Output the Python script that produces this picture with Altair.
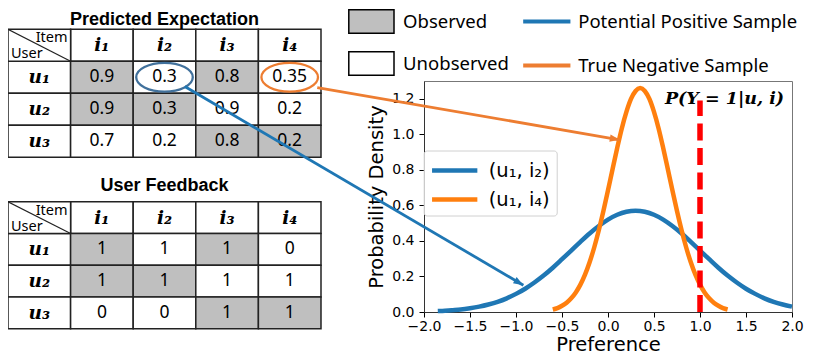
import math
import altair as alt
import pandas as pd

# ---------------- data ----------------
items = ["i₁", "i₂", "i₃", "i₄"]
users = ["u₁", "u₂", "u₃"]
predicted = [["0.9", "0.3", "0.8", "0.35"],
             ["0.9", "0.3", "0.9", "0.2"],
             ["0.7", "0.2", "0.8", "0.2"]]
feedback = [["1", "1", "1", "0"],
            ["1", "1", "1", "1"],
            ["0", "0", "1", "1"]]
observed = [[1, 0, 1, 0],
            [1, 1, 0, 0],
            [0, 0, 1, 1]]
status_labels = ["Observed", "Unobserved"]
status_colors = ["#bfbfbf", "#ffffff"]
table_titles = ["Predicted Expectation", "User Feedback"]
corner_labels = ["Item", "User"]

ring_users = ["u₁", "u₁"]
ring_items = ["i₂", "i₄"]
ring_colors = ["#41719c", "#ed7d31"]

series_labels = ["(u₁, i₂)", "(u₁, i₄)"]
series_colors = ["#1f77b4", "#ff7f0e"]

blue_x = [-1.85, -1.8, -1.7, -1.6, -1.5, -1.4, -1.3, -1.2, -1.1, -1.0, -0.9, -0.8,
          -0.7, -0.6, -0.5, -0.4, -0.3, -0.2, -0.1, 0.0, 0.1, 0.2, 0.3, 0.4, 0.5,
          0.6, 0.7, 0.8, 0.9, 1.0, 1.1, 1.2, 1.3, 1.4, 1.5, 1.6, 1.7, 1.8, 1.9, 2.0]
blue_y = [0.005, 0.006, 0.010, 0.014, 0.021, 0.030, 0.042, 0.057, 0.077, 0.102, 0.131, 0.166,
          0.205, 0.249, 0.297, 0.346, 0.395, 0.442, 0.484, 0.520, 0.547, 0.564, 0.570, 0.564, 0.547,
          0.520, 0.484, 0.442, 0.395, 0.346, 0.297, 0.249, 0.205, 0.166, 0.131, 0.102, 0.077, 0.057, 0.042, 0.030]

orange_x = [-0.6, -0.55, -0.5, -0.45, -0.4, -0.35, -0.3, -0.25, -0.2, -0.15, -0.1, -0.05,
            0.0, 0.05, 0.1, 0.15, 0.2, 0.25, 0.3, 0.35, 0.4, 0.45, 0.5, 0.55, 0.6, 0.65,
            0.7, 0.75, 0.8, 0.85, 0.9, 0.95, 1.0, 1.05, 1.1, 1.15, 1.2, 1.25, 1.3]
orange_y = [0.014, 0.022, 0.035, 0.052, 0.077, 0.110, 0.154, 0.210, 0.280, 0.363, 0.460, 0.568,
            0.685, 0.805, 0.923, 1.033, 1.126, 1.199, 1.244, 1.260, 1.244, 1.199, 1.126, 1.033, 0.923, 0.805,
            0.685, 0.568, 0.460, 0.363, 0.280, 0.210, 0.154, 0.110, 0.077, 0.052, 0.035, 0.022, 0.014]

threshold = 1.0
threshold_top = 1.19
threshold_label = "P(Y = 1|u, i)"
threshold_label_y = 1.198

arrow_kinds = ["Potential Positive Sample", "True Negative Sample"]
arrow_colors = ["#1f77b4", "#ed7d31"]
arrow_start_x = [-4.60, -3.16]
arrow_start_y = [1.269, 1.263]
arrow_end_x = [-0.92, 0.127]
arrow_end_y = [0.151, 0.969]

x_ticks = [-2.0, -1.5, -1.0, -0.5, 0.0, 0.5, 1.0, 1.5, 2.0]
y_ticks = [0.0, 0.2, 0.4, 0.6, 0.8, 1.0, 1.2]
x_domain = [-2.0, 2.0]
y_domain = [0.0, 1.3]

# ---------------- layout / style ----------------
VIEW_W, VIEW_H = 368, 231
TABLE_X_RANGE = [-416, -103]
T1_Y_RANGE = [-51.7, 76.2]
T2_Y_RANGE = [120.8, 247.7]
GRID = "#222222"
SANS = "Noto Sans"
TITLE_FONT = "Liberation Sans"
SERIF = "DejaVu Serif"
MPL = "DejaVu Sans"

fill_legend = alt.Legend(
    orient="none", legendX=-75.2, legendY=-71.9, title=None, padding=0,
    symbolType="M-2,-1.04H2V1.04H-2Z", symbolSize=511, symbolStrokeColor="black",
    symbolStrokeWidth=1.5, symbolOffset=10.1, labelOffset=19.2, rowPadding=11,
    labelFont=SANS, labelFontSize=18.5, labelColor="black", labelLimit=300)

stroke_legend = alt.Legend(
    orient="none", legendX=99.2, legendY=-73.5, title=None, padding=0,
    symbolType="M-2,0H2", symbolSize=558, symbolStrokeWidth=4,
    symbolOffset=9.6, labelOffset=17.4, rowPadding=20,
    labelFont=SANS, labelFontSize=18.5, labelColor="black", labelLimit=400)

curve_legend = alt.Legend(
    orient="none", legendX=-0.3, legendY=69.5, title=None, padding=6,
    symbolType="M-2,0H2", symbolSize=513, symbolStrokeWidth=4.5,
    symbolOffset=11, labelOffset=20, rowPadding=5,
    strokeColor="#d0d0d0", fillColor="rgba(255,255,255,0.85)", cornerRadius=3,
    labelFont=MPL, labelFontSize=19.5, labelColor="black", labelLimit=300,
    labelExpr="datum.label + '\u2003'")


def build_table(values):
    rows = []
    for r, u in enumerate(users):
        for c, it in enumerate(items):
            rows.append(dict(c=c + 1, r=r + 1, label=values[r][c], user=u, item=it,
                             status=status_labels[0] if observed[r][c] else status_labels[1],
                             role="body"))
    for c, it in enumerate(items):
        rows.append(dict(c=c + 1, r=0, label=it, user="", item=it, status="", role="colhead"))
    for r, u in enumerate(users):
        rows.append(dict(c=0, r=r + 1, label=u, user=u, item="", status="", role="rowhead"))
    rows.append(dict(c=0, r=0, label="", user="", item="", status="", role="corner"))
    df = pd.DataFrame(rows)
    df["c_end"] = df["c"] + 1
    df["r_end"] = df["r"] + 1
    df["c_mid"] = df["c"] + 0.5
    df["r_mid"] = df["r"] + 0.5
    return df


def table_chart(values, title, y_range, title_dy, with_rings):
    df = build_table(values)
    ncols = len(items) + 1
    nrows = len(users) + 1
    xs = alt.Scale(domain=[0, ncols], range=TABLE_X_RANGE, nice=False, zero=False)
    ys = alt.Scale(domain=[0, nrows], range=y_range, nice=False, zero=False)

    def X(f):
        return alt.X(f, type="quantitative", scale=xs, axis=None)

    def Y(f):
        return alt.Y(f, type="quantitative", scale=ys, axis=None)

    base = alt.Chart(df)
    heads = base.transform_filter("datum.role != 'body'").mark_rect(
        fill="white", stroke=GRID, strokeWidth=1.5).encode(
        x=X("c"), x2="c_end", y=Y("r"), y2="r_end")
    cells = base.transform_filter("datum.role == 'body'").mark_rect(
        stroke=GRID, strokeWidth=1.5).encode(
        x=X("c"), x2="c_end", y=Y("r"), y2="r_end",
        fill=alt.Fill("status:N", scale=alt.Scale(domain=status_labels, range=status_colors),
                      legend=fill_legend))
    diag = base.transform_filter("datum.role == 'corner'").mark_rule(
        stroke=GRID, strokeWidth=1.2).encode(
        x=X("c"), x2="c_end", y=Y("r"), y2="r_end")
    item_txt = base.transform_filter("datum.role == 'corner'").mark_text(
        text=corner_labels[0], align="right", baseline="top", dx=-3, dy=2,
        font=SANS, fontSize=14.5, color="black").encode(x=X("c_end"), y=Y("r"))
    user_txt = base.transform_filter("datum.role == 'corner'").mark_text(
        text=corner_labels[1], align="left", baseline="alphabetic", dx=3, dy=-3,
        font=SANS, fontSize=14.5, color="black").encode(x=X("c"), y=Y("r_end"))
    vals = base.transform_filter("datum.role == 'body'").mark_text(
        font=SANS, fontSize=17.5, color="black").encode(
        x=X("c_mid"), y=Y("r_mid"), text="label:N")
    hdr = base.transform_filter("datum.role == 'colhead' || datum.role == 'rowhead'").mark_text(
        font=SERIF, fontSize=18.5, fontWeight="bold", fontStyle="italic", color="black").encode(
        x=X("c_mid"), y=Y("r_mid"), text="label:N")
    ttl = alt.Chart(pd.DataFrame({"title": [title]})).mark_text(
        font=TITLE_FONT, fontSize=18, fontWeight="bold", baseline="alphabetic", dy=title_dy,
        color="black").encode(
        x=alt.XDatum(ncols / 2, type="quantitative", scale=xs, axis=None),
        y=alt.YDatum(0, type="quantitative", scale=ys, axis=None),
        text="title:N")
    layers = [heads, cells, diag, item_txt, user_txt, vals, hdr, ttl]
    if with_rings:
        ring_df = pd.DataFrame({"user": ring_users, "item": ring_items, "ring": ring_colors})
        ring_df["c_mid"] = [items.index(i) + 1.5 for i in ring_items]
        ring_df["r_mid"] = [users.index(u) + 1.5 for u in ring_users]
        rings = alt.Chart(ring_df).mark_point(
            shape="M-2,0A2,1.02 0 1,0 2,0A2,1.02 0 1,0 -2,0", size=800,
            filled=False, strokeWidth=2.3, opacity=1).encode(
            x=X("c_mid"), y=Y("r_mid"),
            stroke=alt.condition(f"datum.item == '{ring_items[0]}'",
                                 alt.value(ring_colors[0]), alt.value(ring_colors[1])))
        layers.append(rings)
    return alt.layer(*layers)


table1 = table_chart(predicted, table_titles[0], T1_Y_RANGE, -4.5, True)
table2 = table_chart(feedback, table_titles[1], T2_Y_RANGE, -11, False)

# ---------------- density plot ----------------
xs_d = alt.Scale(domain=x_domain, nice=False, zero=False)
ys_d = alt.Scale(domain=y_domain, nice=False, zero=False)
x_axis = alt.Axis(values=x_ticks, format=".1f", title="Preference", orient="bottom", grid=False,
                  tickSize=5, tickColor="black", domainColor="#333333", labelColor="black",
                  labelFont=MPL, labelFontSize=14, labelPadding=2, labelOverlap=False,
                  labelFlush=False, titleFont=MPL, titleFontSize=19.5, titleFontWeight="normal",
                  titleColor="black", titlePadding=2)
y_axis = alt.Axis(values=y_ticks, format=".1f", title="Probability Density", orient="left", grid=False,
                  tickSize=5, tickColor="black", domainColor="#333333", labelColor="black",
                  labelFont=MPL, labelFontSize=14, labelPadding=5, labelOverlap=False,
                  labelFlush=False, titleFont=MPL, titleFontSize=19.5, titleFontWeight="normal",
                  titleColor="black", titlePadding=5.5)


def DX(f):
    return alt.X(f, type="quantitative", scale=xs_d, axis=x_axis)


def DY(f):
    return alt.Y(f, type="quantitative", scale=ys_d, axis=y_axis)


curve_df = pd.concat([
    pd.DataFrame({"x": blue_x, "density": blue_y, "series": series_labels[0]}),
    pd.DataFrame({"x": orange_x, "density": orange_y, "series": series_labels[1]}),
])
curves = alt.Chart(curve_df).mark_line(strokeWidth=4.5, interpolate="monotone").encode(
    x=DX("x"), y=DY("density"),
    color=alt.Color("series:N", scale=alt.Scale(domain=series_labels, range=series_colors),
                    legend=curve_legend))

thr_df = pd.DataFrame({"x": [threshold], "y0": [0.0], "y1": [threshold_top]})
thr = alt.Chart(thr_df).mark_rule(color="#ff0000", strokeWidth=5.5, strokeDash=[17, 7.5]).encode(
    x=DX("x"), y=DY("y0"), y2="y1")

lbl_df = pd.DataFrame({"x": [threshold], "y": [threshold_label_y], "label": [threshold_label]})
lbl = alt.Chart(lbl_df).mark_text(font="DejaVu Serif", fontSize=17.5, fontWeight="bold",
                                  fontStyle="italic", align="center", baseline="middle",
                                  dx=24.5, color="black").encode(
    x=DX("x"), y=DY("y"), text="label:N")

px_x = VIEW_W / (x_domain[1] - x_domain[0])
px_y = VIEW_H / (y_domain[1] - y_domain[0])
arrow_df = pd.DataFrame({"x": arrow_start_x, "y": arrow_start_y,
                         "x_end": arrow_end_x, "y_end": arrow_end_y, "kind": arrow_kinds})
arrow_df["angle"] = [
    math.degrees(math.atan2((xe - xs0) * px_x, (ye - ys0) * px_y))
    for xs0, ys0, xe, ye in zip(arrow_start_x, arrow_start_y, arrow_end_x, arrow_end_y)
]
arrows = alt.Chart(arrow_df).mark_rule(strokeWidth=2.8).encode(
    x=DX("x"), y=DY("y"), x2="x_end", y2="y_end",
    stroke=alt.Stroke("kind:N", scale=alt.Scale(domain=arrow_kinds, range=arrow_colors),
                      legend=stroke_legend))
heads = alt.Chart(arrow_df).mark_point(shape="M0,0L-0.8,2.2L0.8,2.2Z", size=81, filled=True,
                                       opacity=1).encode(
    x=DX("x_end"), y=DY("y_end"),
    angle=alt.Angle("angle:Q", scale=None),
    fill=alt.condition(f"datum.kind == '{arrow_kinds[0]}'",
                       alt.value(arrow_colors[0]), alt.value(arrow_colors[1])))

density = alt.layer(curves, thr, lbl, arrows, heads)

chart = alt.layer(table1, table2, density).resolve_scale(
    x="independent", y="independent"
).properties(
    width=VIEW_W, height=VIEW_H,
    autosize=alt.AutoSizeParams(type="none"),
    padding={"left": 416, "top": 73, "right": 14, "bottom": 42},
).configure_view(stroke="#777777", strokeWidth=1)

chart.save("out.html", embed_options={"renderer": "svg", "actions": False})
